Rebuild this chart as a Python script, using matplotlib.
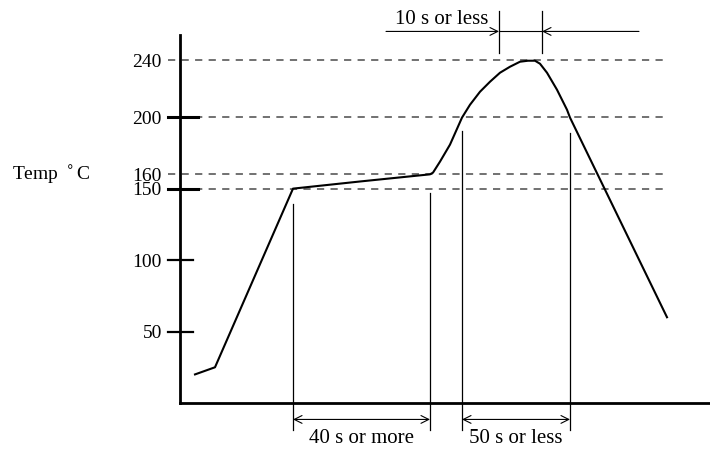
import numpy as np
import matplotlib.pyplot as plt

plt.rcParams['font.family'] = ['Liberation Serif', 'DejaVu Serif']

# reflow profile (time in arbitrary units, temperature in deg C)
t = [7.5, 17.5, 56.5, 90, 125, 126.5, 130, 135, 141, 145, 150, 155, 160, 165, 170, 174,
     177.5, 180, 183.5, 188.5, 193.5, 195, 243.5]
temp = [20, 25, 150, 155, 160, 161.2, 168.9, 180.8, 199.7, 208.7, 217.8, 224.8, 231.1, 235.3, 238.8, 239.5,
        239.5, 237.4, 231.1, 219.2, 205.2, 199.7, 60]

ref_levels = [240, 200, 160, 150]
tick_labels = [50, 100, 150, 160, 200, 240]
big_ticks = [150, 200]
small_ticks = [50, 100]

# timing markers
v_lines = [56.5, 125.0, 141.0, 195.0]
v_tops = [139, 147, 190, 189]
span_40 = (56.5, 125.0)
span_50 = (141.0, 195.0)
span_10 = (159.5, 181.0)

fig = plt.figure(figsize=(7.1, 4.5), dpi=100)
ax = fig.add_axes([180 / 710, 47 / 450, 532 / 710, 368 / 450])
ax.set_xlim(0, 266)
ax.set_ylim(0, 257.5)

for s in ['top', 'right']:
    ax.spines[s].set_visible(False)
for s in ['left', 'bottom']:
    ax.spines[s].set_linewidth(2)

ax.set_xticks([])
ax.set_yticks(tick_labels)
ax.set_yticklabels([str(v) for v in tick_labels], fontsize=14)
ax.tick_params(axis='y', length=0, pad=13)

# dashed reference levels
for lv in ref_levels:
    ax.plot([-6, 242], [lv, lv], ls=(0, (4, 3.5)), color='#666666', lw=1.3, clip_on=False)

# tick marks
for lv in big_ticks:
    ax.plot([-6, 9], [lv, lv], color='black', lw=2.2, clip_on=False)
for lv in small_ticks:
    ax.plot([-6, 6.5], [lv, lv], color='black', lw=1.6, clip_on=False)

# profile curve
ax.plot(t, temp, color='black', lw=1.5, solid_joinstyle='round')

# vertical timing lines
for x, top in zip(v_lines, v_tops):
    ax.plot([x, x], [top, -18.6], color='black', lw=0.9, clip_on=False)

arrow = dict(arrowstyle='<->', color='black', lw=0.8, shrinkA=0, shrinkB=0, mutation_scale=14)
ax.annotate('', xy=(span_40[0], -11.5), xytext=(span_40[1], -11.5), arrowprops=arrow, annotation_clip=False)
ax.annotate('', xy=(span_50[0], -11.5), xytext=(span_50[1], -11.5), arrowprops=arrow, annotation_clip=False)
ax.text(sum(span_40) / 2, -25, '40 s or more', ha='center', va='center', fontsize=15, clip_on=False)
ax.text(sum(span_50) / 2, -25, '50 s or less', ha='center', va='center', fontsize=15, clip_on=False)

# 10 s marker at the top
for x in span_10:
    ax.plot([x, x], [245, 274.5], color='black', lw=0.9, clip_on=False)
ax.plot(span_10, [260, 260], color='black', lw=0.8, clip_on=False)
one = dict(arrowstyle='->', color='black', lw=0.8, shrinkA=0, shrinkB=0, mutation_scale=14)
ax.annotate('', xy=(span_10[0], 260), xytext=(103, 260), arrowprops=one, annotation_clip=False)
ax.annotate('', xy=(span_10[1], 260), xytext=(229.5, 260), arrowprops=one, annotation_clip=False)
ax.text(131, 268, '10 s or less', ha='center', va='center', fontsize=15, clip_on=False)

fig.text(12 / 710, 1 - 175 / 450, 'Temp $^\\circ$C', ha='left', va='center', fontsize=14)

fig.savefig('out.png', dpi=100)
